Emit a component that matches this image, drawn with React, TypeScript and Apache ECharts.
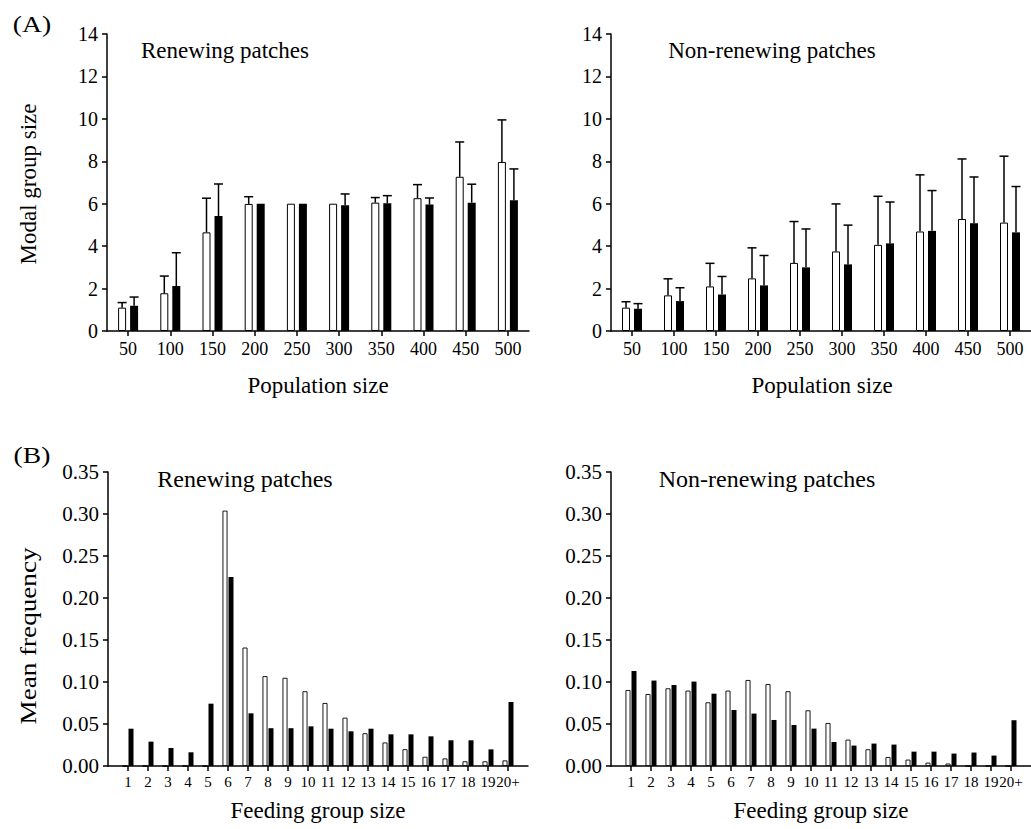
import React, { useEffect, useRef } from "react";
import * as echarts from "echarts";

// ---------- Data ----------
const popCategories = ["50", "100", "150", "200", "250", "300", "350", "400", "450", "500"];

const renewWhite = [1.1, 1.78, 4.65, 5.99, 6.0, 6.0, 6.05, 6.26, 7.27, 7.97];
const renewWhiteErr = [1.34, 2.59, 6.26, 6.33, 6.0, 6.0, 6.29, 6.9, 8.91, 9.95];
const renewBlack = [1.19, 2.12, 5.42, 6.0, 6.0, 5.93, 6.02, 5.96, 6.05, 6.16];
const renewBlackErr = [1.6, 3.69, 6.93, 6.0, 6.0, 6.46, 6.38, 6.27, 6.92, 7.64];

const nonRenewWhite = [1.1, 1.68, 2.1, 2.48, 3.21, 3.75, 4.06, 4.69, 5.28, 5.11];
const nonRenewWhiteErr = [1.38, 2.46, 3.19, 3.92, 5.16, 5.99, 6.35, 7.36, 8.11, 8.24];
const nonRenewBlack = [1.05, 1.41, 1.72, 2.15, 3.0, 3.14, 4.13, 4.72, 5.08, 4.65];
const nonRenewBlackErr = [1.29, 2.04, 2.57, 3.56, 4.81, 4.99, 6.08, 6.62, 7.26, 6.81];

const feedCategories = ["1", "2", "3", "4", "5", "6", "7", "8", "9", "10", "11", "12", "13", "14", "15", "16", "17", "18", "19", "20+"];

const feedRenewWhite = [0, 0, 0, 0, 0, 0.304, 0.141, 0.107, 0.105, 0.089, 0.075, 0.0575, 0.039, 0.028, 0.02, 0.011, 0.009, 0.0056, 0.0056, 0.0067];
const feedRenewBlack = [0.0444, 0.029, 0.0214, 0.0163, 0.0742, 0.225, 0.0627, 0.045, 0.045, 0.0472, 0.0444, 0.0413, 0.0444, 0.0377, 0.0377, 0.0353, 0.0306, 0.0306, 0.0198, 0.0762];
const feedNonWhite = [0.0905, 0.0857, 0.0925, 0.0898, 0.0758, 0.0898, 0.1024, 0.0976, 0.089, 0.0663, 0.0512, 0.0314, 0.0199, 0.0107, 0.0076, 0.004, 0.0029, 0, 0, 0];
const feedNonBlack = [0.1131, 0.1017, 0.0964, 0.1005, 0.0861, 0.0667, 0.0624, 0.0548, 0.0488, 0.0445, 0.0286, 0.0243, 0.0267, 0.0255, 0.0171, 0.0171, 0.0148, 0.016, 0.0124, 0.0545];

const modalTicks = [0, 2, 4, 6, 8, 10, 12, 14];
const freqTicks = ["0.00", "0.05", "0.10", "0.15", "0.20", "0.25", "0.30", "0.35"];

// ---------- Styling ----------
const FONT = "'Liberation Serif', 'Times New Roman', Times, serif";
const BLACK = "#000";

function errorSeries(axisIndex: number, values: number[], errs: number[], offset: number) {
  return {
    type: "custom",
    xAxisIndex: axisIndex,
    yAxisIndex: axisIndex,
    data: values.map((v, i) => [i, v, errs[i]]),
    encode: { x: 0, y: [1, 2] },
    z: 3,
    silent: true,
    renderItem: (params: any, api: any) => {
      const i = api.value(0);
      const v = api.value(1);
      const e = api.value(2);
      if (!(e > v)) return null;
      const p0 = api.coord([i, v]);
      const p1 = api.coord([i, e]);
      const x = p0[0] + offset;
      return {
        type: "group",
        children: [
          { type: "line", shape: { x1: x, y1: p0[1], x2: x, y2: p1[1] }, style: { stroke: BLACK, lineWidth: 1.5 } },
          { type: "line", shape: { x1: x - 4.5, y1: p1[1], x2: x + 4.5, y2: p1[1] }, style: { stroke: BLACK, lineWidth: 1.5 } },
        ],
      };
    },
  };
}

function topXAxis(gridIndex: number) {
  return {
    type: "category",
    gridIndex,
    data: popCategories,
    boundaryGap: true,
    axisLine: { show: true, lineStyle: { color: BLACK, width: 1.5 } },
    axisTick: { show: true, alignWithLabel: true, length: 5, lineStyle: { color: BLACK, width: 1.5 } },
    axisLabel: { color: BLACK, fontFamily: FONT, fontSize: 18, margin: 9, interval: 0 },
    splitLine: { show: false },
  };
}

function topYAxis(gridIndex: number) {
  return {
    type: "value",
    gridIndex,
    min: 0,
    max: 14,
    interval: 2,
    axisLine: { show: true, lineStyle: { color: BLACK, width: 1.5 } },
    axisTick: { show: true, length: 5, lineStyle: { color: BLACK, width: 1.5 } },
    axisLabel: { color: BLACK, fontFamily: FONT, fontSize: 20, margin: 9, formatter: (v: number) => String(modalTicks[Math.round(v / 2)]) },
    splitLine: { show: false },
  };
}

const feedPositions = feedCategories.map((_, i) => i + 1);

function bottomXAxis(gridIndex: number) {
  return {
    type: "value",
    gridIndex,
    min: 0,
    max: 21,
    interval: 1,
    axisLine: { show: true, onZero: false, lineStyle: { color: BLACK, width: 1.5 } },
    axisTick: { show: true, length: 5, customValues: feedPositions, lineStyle: { color: BLACK, width: 1.5 } },
    axisLabel: {
      color: BLACK,
      fontFamily: FONT,
      fontSize: 15,
      margin: 8,
      customValues: feedPositions,
      formatter: (v: number) => feedCategories[Math.round(v) - 1] ?? "",
    },
    splitLine: { show: false },
  };
}

function bottomYAxis(gridIndex: number) {
  return {
    type: "value",
    gridIndex,
    min: 0,
    max: 0.35,
    interval: 0.05,
    axisLine: { show: true, lineStyle: { color: BLACK, width: 1.5 } },
    axisTick: { show: true, length: 5, lineStyle: { color: BLACK, width: 1.5 } },
    axisLabel: {
      color: BLACK,
      fontFamily: FONT,
      fontSize: 21,
      margin: 9,
      formatter: (v: number) => freqTicks[Math.round(v / 0.05)] ?? "",
    },
    splitLine: { show: false },
  };
}

const whiteStyle = { color: "#fff", borderColor: BLACK, borderWidth: 1 };
const blackStyle = { color: BLACK, borderColor: BLACK, borderWidth: 0 };

function topBars(axisIndex: number, white: number[], black: number[]) {
  return [
    { type: "bar", xAxisIndex: axisIndex, yAxisIndex: axisIndex, data: white, barWidth: 8, barGap: "50%", itemStyle: whiteStyle },
    { type: "bar", xAxisIndex: axisIndex, yAxisIndex: axisIndex, data: black, barWidth: 8, barGap: "50%", itemStyle: blackStyle },
  ];
}

function bottomBars(axisIndex: number, white: number[], black: number[]) {
  return [
    {
      type: "bar",
      xAxisIndex: axisIndex,
      yAxisIndex: axisIndex,
      data: white.map((v, i) => [feedPositions[i], v]),
      barWidth: 5,
      barGap: "20%",
      itemStyle: { color: "#fff", borderColor: BLACK, borderWidth: 0.9 },
    },
    {
      type: "bar",
      xAxisIndex: axisIndex,
      yAxisIndex: axisIndex,
      data: black.map((v, i) => [feedPositions[i], v]),
      barWidth: 5,
      barGap: "20%",
      itemStyle: blackStyle,
    },
  ];
}

function label(text: string, x: number, y: number, size: number, opts: any = {}) {
  return {
    type: "text",
    x,
    y,
    rotation: opts.rotation ?? 0,
    scaleX: opts.scaleX ?? 1,
    scaleY: opts.scaleY ?? 1,
    silent: true,
    style: {
      text,
      x: 0,
      y: 0,
      fill: BLACK,
      fontFamily: FONT,
      fontSize: size,
      fontWeight: "normal",
      align: opts.align ?? "center",
      verticalAlign: "middle",
    },
  };
}

function buildOption() {
  return {
    animation: false,
    backgroundColor: "#fff",
    textStyle: { fontFamily: FONT },
    grid: [
      { left: 107, top: 34, width: 422, height: 297 },
      { left: 611, top: 34, width: 422, height: 297 },
      { left: 108, top: 472, width: 420, height: 294 },
      { left: 611, top: 472, width: 420, height: 294 },
    ],
    xAxis: [topXAxis(0), topXAxis(1), bottomXAxis(2), bottomXAxis(3)],
    yAxis: [topYAxis(0), topYAxis(1), bottomYAxis(2), bottomYAxis(3)],
    series: [
      ...topBars(0, renewWhite, renewBlack),
      errorSeries(0, renewWhite, renewWhiteErr, -6),
      errorSeries(0, renewBlack, renewBlackErr, 6),
      ...topBars(1, nonRenewWhite, nonRenewBlack),
      errorSeries(1, nonRenewWhite, nonRenewWhiteErr, -6),
      errorSeries(1, nonRenewBlack, nonRenewBlackErr, 6),
      ...bottomBars(2, feedRenewWhite, feedRenewBlack),
      ...bottomBars(3, feedNonWhite, feedNonBlack),
    ],
    graphic: [
      label("(A)", 32, 24, 23, { scaleX: 1.2 }),
      label("(B)", 32, 455, 23, { scaleX: 1.2 }),
      label("Renewing patches", 225, 50, 23),
      label("Non-renewing patches", 772, 50, 23),
      label("Renewing patches", 245, 479, 24),
      label("Non-renewing patches", 767, 479, 24),
      label("Modal group size", 28, 184, 23, { rotation: Math.PI / 2 }),
      label("Mean frequency", 28, 636, 23, { rotation: Math.PI / 2, scaleX: 1.18 }),
      label("Population size", 318, 385, 23),
      label("Population size", 822, 385, 23),
      label("Feeding group size", 318, 810, 23),
      label("Feeding group size", 821, 810, 23),
    ],
  };
}

export default function App() {
  const ref = useRef<HTMLDivElement>(null);
  useEffect(() => {
    if (!ref.current) return;
    const chart = echarts.init(ref.current, undefined, { renderer: "svg" });
    chart.setOption(buildOption() as any);
    return () => chart.dispose();
  }, []);
  return (
    <div
      ref={ref}
      style={{ position: "fixed", left: 0, top: 0, width: 1031, height: 829, background: "#fff" }}
    />
  );
}
